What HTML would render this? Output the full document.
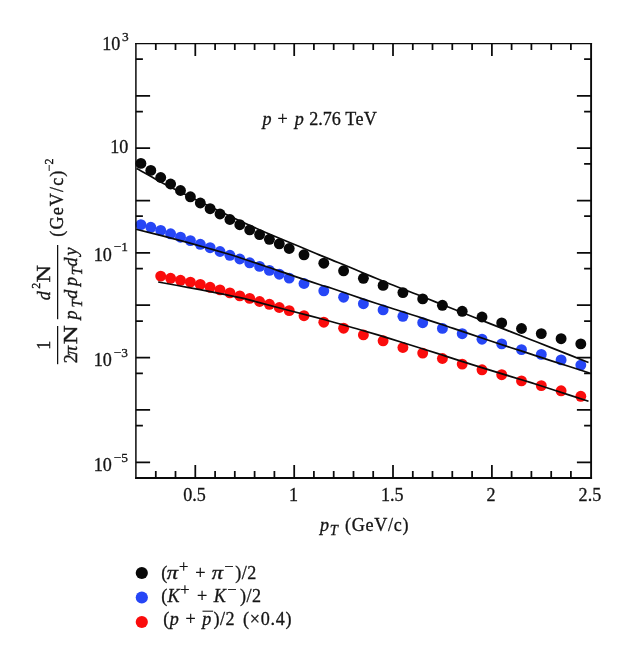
<!DOCTYPE html>
<html><head><meta charset="utf-8"><title>pT spectra</title>
<style>
html,body{margin:0;padding:0;background:#fff;}
body{width:632px;height:660px;overflow:hidden;font-family:"Liberation Serif",serif;}
svg{display:block;}
.t{opacity:0.999;}
text{font-family:"Liberation Serif",serif;fill:#151515;stroke:#151515;stroke-width:0.3px;}
.i{font-style:italic;}
</style></head><body>
<svg width="632" height="660" viewBox="0 0 632 660">
<rect width="632" height="660" fill="#fff"/>
<g fill="#080808"><circle cx="140.9" cy="163.4" r="5.45"/><circle cx="150.8" cy="170.4" r="5.45"/><circle cx="160.7" cy="177.5" r="5.45"/><circle cx="170.6" cy="184.0" r="5.45"/><circle cx="180.5" cy="190.5" r="5.45"/><circle cx="190.4" cy="196.8" r="5.45"/><circle cx="200.3" cy="203.0" r="5.45"/><circle cx="210.1" cy="208.7" r="5.45"/><circle cx="220.0" cy="214.0" r="5.45"/><circle cx="229.9" cy="219.5" r="5.45"/><circle cx="239.8" cy="224.7" r="5.45"/><circle cx="249.7" cy="229.9" r="5.45"/><circle cx="259.6" cy="234.6" r="5.45"/><circle cx="269.4" cy="239.3" r="5.45"/><circle cx="279.3" cy="243.8" r="5.45"/><circle cx="289.2" cy="248.5" r="5.45"/><circle cx="304.0" cy="254.8" r="5.45"/><circle cx="323.8" cy="263.2" r="5.45"/><circle cx="343.6" cy="270.8" r="5.45"/><circle cx="363.4" cy="278.3" r="5.45"/><circle cx="383.1" cy="285.4" r="5.45"/><circle cx="402.9" cy="292.6" r="5.45"/><circle cx="422.7" cy="298.9" r="5.45"/><circle cx="442.4" cy="305.3" r="5.45"/><circle cx="462.2" cy="311.3" r="5.45"/><circle cx="482.0" cy="317.0" r="5.45"/><circle cx="501.7" cy="322.9" r="5.45"/><circle cx="521.5" cy="328.5" r="5.45"/><circle cx="541.3" cy="333.6" r="5.45"/><circle cx="561.1" cy="338.7" r="5.45"/><circle cx="580.8" cy="343.9" r="5.45"/></g>
<g fill="#2646f6"><circle cx="140.9" cy="224.6" r="5.45"/><circle cx="150.8" cy="227.3" r="5.45"/><circle cx="160.7" cy="230.4" r="5.45"/><circle cx="170.6" cy="233.8" r="5.45"/><circle cx="180.5" cy="237.2" r="5.45"/><circle cx="190.4" cy="240.6" r="5.45"/><circle cx="200.3" cy="244.3" r="5.45"/><circle cx="210.1" cy="247.7" r="5.45"/><circle cx="220.0" cy="251.5" r="5.45"/><circle cx="229.9" cy="255.3" r="5.45"/><circle cx="239.8" cy="259.0" r="5.45"/><circle cx="249.7" cy="262.8" r="5.45"/><circle cx="259.6" cy="266.4" r="5.45"/><circle cx="269.4" cy="270.4" r="5.45"/><circle cx="279.3" cy="274.2" r="5.45"/><circle cx="289.2" cy="278.1" r="5.45"/><circle cx="304.0" cy="283.5" r="5.45"/><circle cx="323.8" cy="290.8" r="5.45"/><circle cx="343.6" cy="297.2" r="5.45"/><circle cx="363.4" cy="303.7" r="5.45"/><circle cx="383.1" cy="309.9" r="5.45"/><circle cx="402.9" cy="316.3" r="5.45"/><circle cx="422.7" cy="322.7" r="5.45"/><circle cx="442.4" cy="328.4" r="5.45"/><circle cx="462.2" cy="333.7" r="5.45"/><circle cx="482.0" cy="339.2" r="5.45"/><circle cx="501.7" cy="343.9" r="5.45"/><circle cx="521.5" cy="349.6" r="5.45"/><circle cx="541.3" cy="354.4" r="5.45"/><circle cx="561.1" cy="359.9" r="5.45"/><circle cx="580.8" cy="365.1" r="5.45"/></g>
<g fill="#fa0c0c"><circle cx="160.7" cy="276.1" r="5.45"/><circle cx="170.6" cy="278.3" r="5.45"/><circle cx="180.5" cy="280.3" r="5.45"/><circle cx="190.4" cy="282.2" r="5.45"/><circle cx="200.3" cy="284.4" r="5.45"/><circle cx="210.1" cy="287.3" r="5.45"/><circle cx="220.0" cy="289.9" r="5.45"/><circle cx="229.9" cy="292.9" r="5.45"/><circle cx="239.8" cy="295.9" r="5.45"/><circle cx="249.7" cy="298.4" r="5.45"/><circle cx="259.6" cy="301.5" r="5.45"/><circle cx="269.4" cy="304.3" r="5.45"/><circle cx="279.3" cy="307.5" r="5.45"/><circle cx="289.2" cy="310.6" r="5.45"/><circle cx="304.0" cy="315.7" r="5.45"/><circle cx="323.8" cy="322.2" r="5.45"/><circle cx="343.6" cy="328.2" r="5.45"/><circle cx="363.4" cy="334.9" r="5.45"/><circle cx="383.1" cy="340.8" r="5.45"/><circle cx="402.9" cy="347.5" r="5.45"/><circle cx="422.7" cy="353.1" r="5.45"/><circle cx="442.4" cy="358.5" r="5.45"/><circle cx="462.2" cy="364.1" r="5.45"/><circle cx="482.0" cy="369.8" r="5.45"/><circle cx="501.7" cy="374.7" r="5.45"/><circle cx="521.5" cy="380.9" r="5.45"/><circle cx="541.3" cy="385.6" r="5.45"/><circle cx="561.1" cy="390.8" r="5.45"/><circle cx="580.8" cy="396.3" r="5.45"/></g>
<g fill="none" stroke="#0a0a0a" stroke-width="1.70">
<path d="M136.5 168.6C138.8 169.8 145.7 173.6 150.2 176.1C154.7 178.6 155.2 179.3 163.5 183.6C171.8 187.9 188.9 196.4 200.0 201.8C211.1 207.2 220.7 211.8 230.0 216.2C239.3 220.6 248.7 224.9 256.0 228.2C263.3 231.5 269.0 233.9 274.0 236.0C279.0 238.1 281.7 239.2 286.0 241.0C290.3 242.8 295.0 244.7 300.0 246.8C305.0 248.9 310.7 251.3 316.0 253.5C321.3 255.7 326.8 257.9 331.6 259.9C336.4 261.9 339.7 263.1 345.0 265.3C350.3 267.5 358.1 270.8 363.3 273.0C368.5 275.2 371.6 276.5 376.0 278.3C380.4 280.1 385.0 282.0 390.0 284.0C395.0 286.0 400.7 288.1 406.0 290.2C411.3 292.2 416.6 294.3 421.6 296.3C426.6 298.3 430.7 300.0 436.0 302.1C441.3 304.2 444.3 305.4 453.3 309.0C462.3 312.6 480.4 319.8 490.0 323.6C499.6 327.4 504.3 329.2 511.1 331.9C517.9 334.6 524.1 337.0 531.0 339.7C537.9 342.4 542.7 344.3 552.3 348.1C561.9 351.9 582.5 360.1 588.5 362.5"/>
<path d="M136.0 229.2C140.3 230.3 153.4 233.5 161.6 235.6C169.8 237.7 177.5 239.8 185.4 241.9C193.3 244.1 201.7 246.4 209.1 248.5C216.5 250.6 224.2 252.8 230.0 254.5C235.8 256.2 237.4 256.9 243.7 259.0C249.9 261.1 259.6 264.3 267.5 267.0C275.4 269.7 282.4 272.2 291.2 275.1C299.9 278.1 313.3 282.5 320.0 284.7C326.7 286.9 324.4 285.9 331.6 288.3C338.8 290.7 353.6 295.9 363.3 299.1C373.0 302.3 380.3 304.6 390.0 307.7C399.7 310.8 411.1 314.4 421.6 317.9C432.2 321.3 441.9 324.6 453.3 328.4C464.7 332.2 480.4 337.5 490.0 340.7C499.6 343.9 504.3 345.5 511.1 347.7C517.9 349.9 524.1 351.9 531.0 354.1C537.9 356.3 542.5 358.0 552.3 361.1C562.0 364.2 583.3 371.0 589.5 373.0"/>
<path d="M158.2 282.0C163.1 282.9 177.3 285.4 187.5 287.3C197.7 289.2 210.3 291.6 219.1 293.3C227.8 295.0 233.8 296.2 240.0 297.6C246.2 299.0 248.6 299.8 256.6 301.9C264.7 304.0 276.9 307.3 288.3 310.3C299.7 313.3 313.0 316.6 325.0 319.8C337.0 323.1 349.3 326.7 360.1 329.8C370.9 332.9 379.8 335.5 390.0 338.6C400.2 341.7 413.3 345.9 421.6 348.5C429.9 351.1 434.7 352.6 440.0 354.3C445.3 356.0 445.8 356.2 453.3 358.6C460.8 361.0 475.4 365.6 485.0 368.6C494.6 371.6 503.4 374.3 511.1 376.6C518.8 378.9 524.1 380.5 531.0 382.6C537.9 384.8 542.7 386.4 552.3 389.5C561.9 392.6 582.5 399.3 588.5 401.3"/>
</g>
<g fill="none" stroke="#0a0a0a" stroke-width="1.75" stroke-linecap="butt">
<path d="M135.15 43.60H592.05" stroke-width="1.3"/>
<path d="M135.90 43.00V478.95" stroke-width="1.5"/>
<path d="M591.10 43.00V478.95" stroke-width="1.9"/>
<path d="M135.15 478.00H592.05" stroke-width="1.9"/>
<path d="M155.8 43.6v6.3M155.8 478.0v-6.9M175.5 43.6v6.3M175.5 478.0v-6.9M195.3 43.6v12.3M195.3 478.0v-12.9M215.1 43.6v6.3M215.1 478.0v-6.9M234.8 43.6v6.3M234.8 478.0v-6.9M254.6 43.6v6.3M254.6 478.0v-6.9M274.4 43.6v6.3M274.4 478.0v-6.9M294.2 43.6v12.3M294.2 478.0v-12.9M313.9 43.6v6.3M313.9 478.0v-6.9M333.7 43.6v6.3M333.7 478.0v-6.9M353.5 43.6v6.3M353.5 478.0v-6.9M373.2 43.6v6.3M373.2 478.0v-6.9M393.0 43.6v12.3M393.0 478.0v-12.9M412.8 43.6v6.3M412.8 478.0v-6.9M432.5 43.6v6.3M432.5 478.0v-6.9M452.3 43.6v6.3M452.3 478.0v-6.9M472.1 43.6v6.3M472.1 478.0v-6.9M491.9 43.6v12.3M491.9 478.0v-12.9M511.6 43.6v6.3M511.6 478.0v-6.9M531.4 43.6v6.3M531.4 478.0v-6.9M551.2 43.6v6.3M551.2 478.0v-6.9M570.9 43.6v6.3M570.9 478.0v-6.9M135.9 59.2h7M591.1 59.2h-7M135.9 95.8h14.2M591.1 95.8h-14.2M135.9 111.5h7M591.1 111.5h-7M135.9 148.1h14.2M591.1 148.1h-14.2M135.9 163.9h7M591.1 163.9h-7M135.9 200.5h14.2M591.1 200.5h-14.2M135.9 216.2h7M591.1 216.2h-7M135.9 252.8h14.2M591.1 252.8h-14.2M135.9 268.6h7M591.1 268.6h-7M135.9 305.2h14.2M591.1 305.2h-14.2M135.9 321.0h7M591.1 321.0h-7M135.9 357.6h14.2M591.1 357.6h-14.2M135.9 373.3h7M591.1 373.3h-7M135.9 409.9h14.2M591.1 409.9h-14.2M135.9 425.7h7M591.1 425.7h-7M135.9 462.3h14.2M591.1 462.3h-14.2"/>
</g>
<g class="t">
<g font-size="18.1" text-anchor="middle">
<text x="194.5" y="500.7">0.5</text>
<text x="293.4" y="500.7">1</text>
<text x="392.2" y="500.7">1.5</text>
<text x="491.1" y="500.7">2</text>
<text x="589.9" y="500.7">2.5</text>
</g>
<g font-size="18.1">
<text text-anchor="end"><tspan x="120.3" y="50.2">10</tspan></text>
<text><tspan x="122.1" font-size="13.4" y="41.0">3</tspan></text>
<text text-anchor="end"><tspan x="128.3" y="153.1">10</tspan></text>
<text text-anchor="end"><tspan x="111.9" y="260.6">10</tspan></text>
<text><tspan x="113.7" font-size="13.4" y="251.4">−1</tspan></text>
<text text-anchor="end"><tspan x="111.9" y="366.3">10</tspan></text>
<text><tspan x="113.7" font-size="13.4" y="357.1">−3</tspan></text>
<text text-anchor="end"><tspan x="111.9" y="471.3">10</tspan></text>
<text><tspan x="113.7" font-size="13.4" y="462.1">−5</tspan></text>
</g>
<g font-size="18.1">
<text><tspan x="262.6" class="i" y="125.4">p</tspan><tspan x="277.4" y="125.4">+</tspan><tspan x="294.7" class="i" y="125.4">p</tspan><tspan x="309.3" textLength="31.5" lengthAdjust="spacing" y="125.4">2.76</tspan><tspan x="345.3" textLength="31.5" lengthAdjust="spacing" y="125.4">TeV</tspan></text>
<text><tspan x="319.9" class="i" y="530.5">p</tspan><tspan x="329.8" class="i" font-size="14.6" y="534.7">T</tspan><tspan x="345.0" textLength="63.6" lengthAdjust="spacing" y="530.5">(GeV/c)</tspan></text>
</g>
<g transform="rotate(-90)" font-size="18.1">
<path d="M-364.2 57.5H-326M-319.2 57.5H-245" stroke="#111" stroke-width="1.25" fill="none"/>
<text><tspan x="-349.8" y="49.6">1</tspan></text>
<text><tspan x="-363.3" y="77.0">2</tspan></text>
<text x="-355.4" y="77" class="i" textLength="9.6" lengthAdjust="spacingAndGlyphs">π</text>
<text x="-344.2" y="77.0" font-size="19" textLength="19.0" lengthAdjust="spacingAndGlyphs">N</text>
<text><tspan x="-300.3" class="i" y="50.0">d</tspan><tspan x="-288.8" font-size="12.0" y="39.6">2</tspan></text>
<text x="-282.5" y="50.0" font-size="19" textLength="17.5" lengthAdjust="spacingAndGlyphs">N</text>
<text><tspan x="-319.5" class="i" y="77.3">p</tspan><tspan x="-307.6" class="i" font-size="14.6" y="81.5">T</tspan><tspan x="-298.8" class="i" y="77.3">d</tspan><tspan x="-286.0" class="i" y="77.3">p</tspan><tspan x="-275.2" class="i" font-size="14.6" y="81.5">T</tspan><tspan x="-266.4" class="i" y="77.3">d</tspan><tspan x="-255.5" class="i" y="77.3">y</tspan></text>
<text><tspan x="-236.7" textLength="66.0" lengthAdjust="spacing" y="63.3">(GeV/c)</tspan><tspan x="-171.3" font-size="12.0" y="53.1">−2</tspan></text>
</g>
<circle cx="141.8" cy="573.0" r="6.1" fill="#080808"/>
<circle cx="141.8" cy="597.5" r="6.1" fill="#2646f6"/>
<circle cx="141.8" cy="622.0" r="6.1" fill="#fa0c0c"/>
<g font-size="18.1">
<text><tspan x="161.3" y="578.5">(</tspan><tspan x="179.0" font-size="16.5" y="571.7">+</tspan><tspan x="195.3" y="578.5">+</tspan><tspan x="224.3" font-size="16.5" y="571.7">−</tspan><tspan x="235.3" textLength="21.0" lengthAdjust="spacing" y="578.5">)/2</tspan></text>
<text x="166.8" y="578.5" class="i" textLength="11.3" lengthAdjust="spacingAndGlyphs">π</text>
<text x="211.8" y="578.5" class="i" textLength="11.3" lengthAdjust="spacingAndGlyphs">π</text>
<text><tspan x="161.3" y="602.0">(</tspan><tspan x="167.5" class="i" y="602.0">K</tspan><tspan x="180.3" font-size="16.5" y="595.2">+</tspan><tspan x="197.0" y="602.0">+</tspan><tspan x="213.8" class="i" y="602.0">K</tspan><tspan x="227.3" font-size="16.5" y="595.2">−</tspan><tspan x="240.0" textLength="21.0" lengthAdjust="spacing" y="602.0">)/2</tspan></text>
<text><tspan x="163.3" y="625.0">(</tspan><tspan x="169.7" class="i" y="625.0">p</tspan><tspan x="185.5" y="625.0">+</tspan><tspan x="202.3" class="i" y="625.0">p</tspan><tspan x="213.5" textLength="21.0" lengthAdjust="spacing" y="625.0">)/2</tspan><tspan x="243.0" textLength="48.5" lengthAdjust="spacing" y="625.0">(×0.4)</tspan></text>
<path d="M202.5 611.2h10.6" stroke="#1a1a1a" stroke-width="1.1" fill="none"/>
</g>
</g>
</svg></body></html>
